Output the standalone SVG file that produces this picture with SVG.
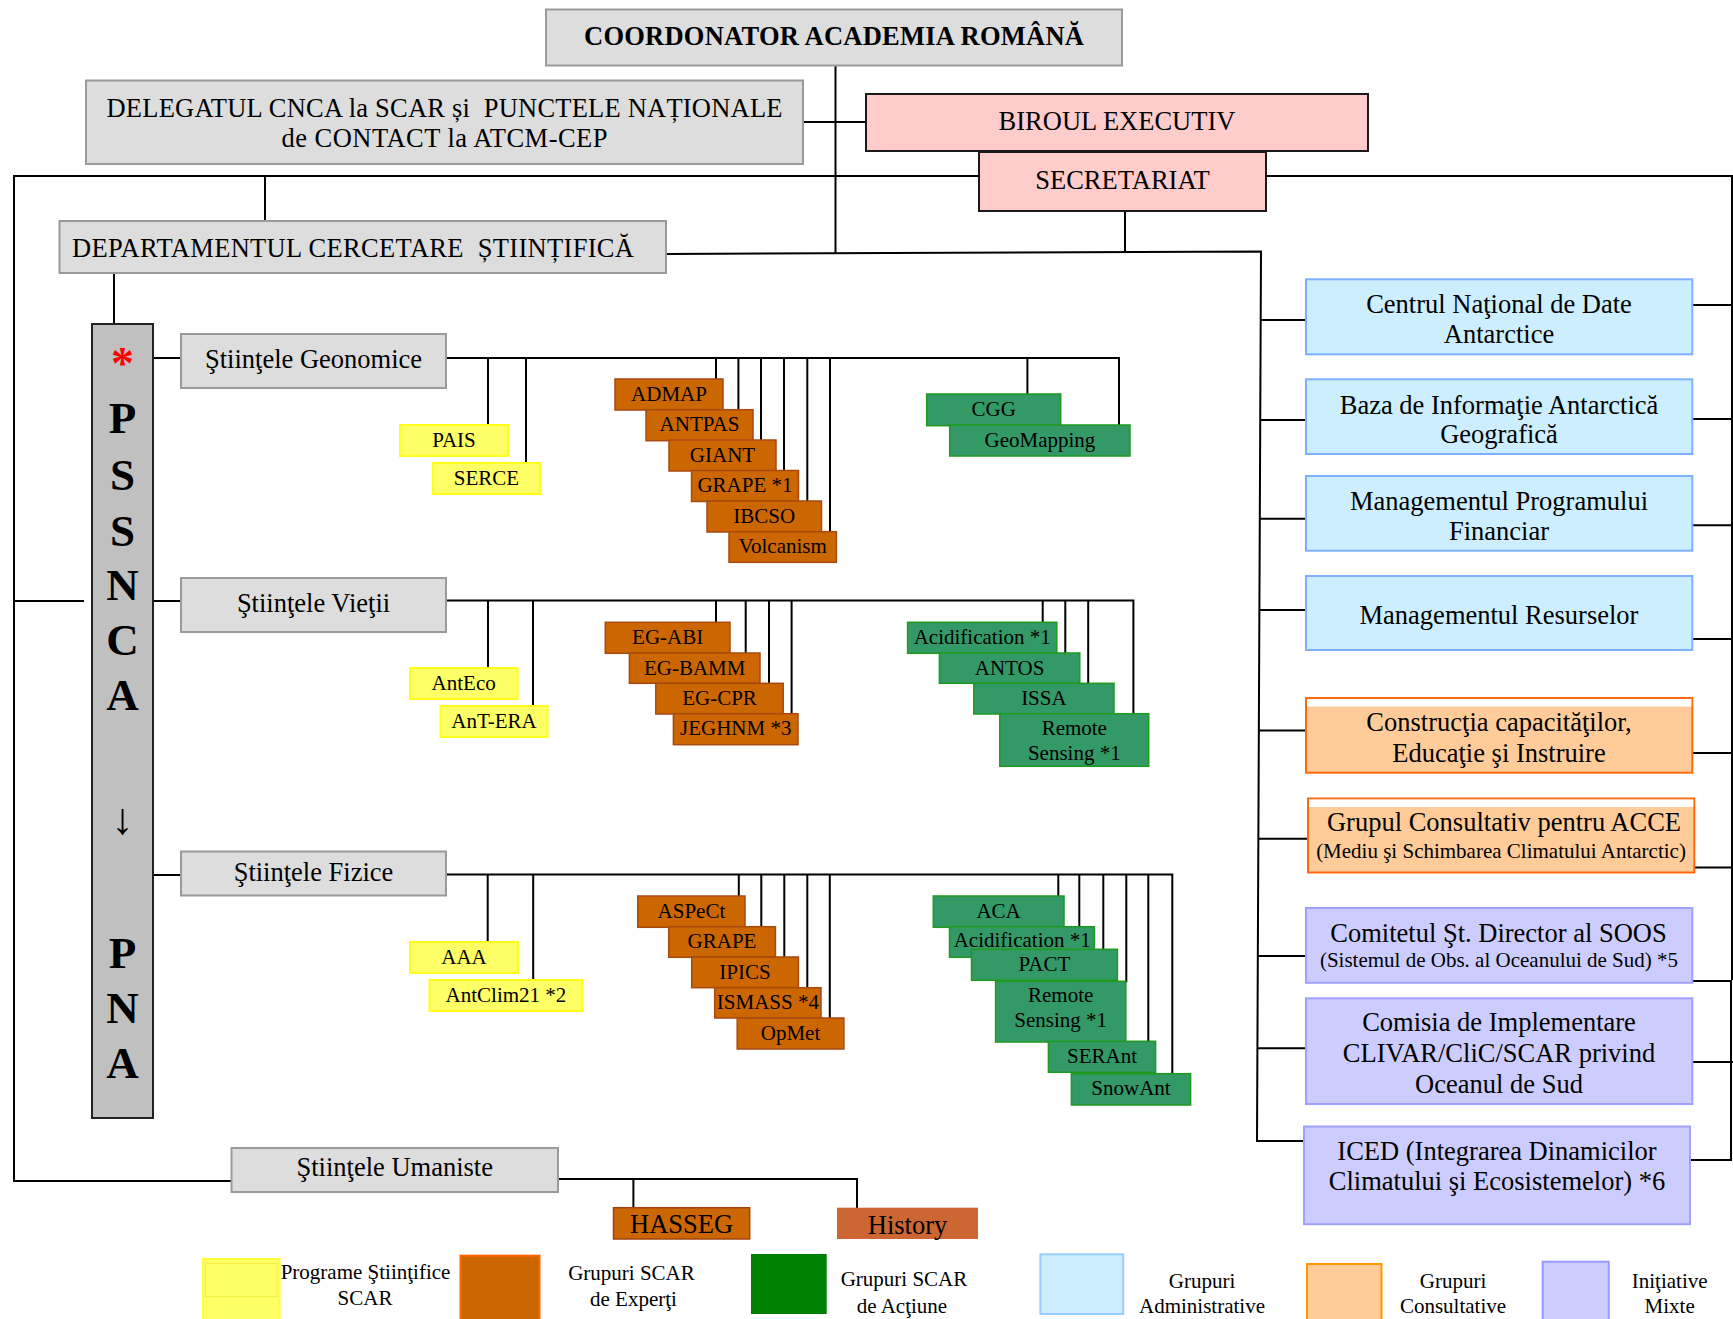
<svg xmlns="http://www.w3.org/2000/svg" width="1733" height="1319" viewBox="0 0 1733 1319">
<style>
.ln{stroke:#000;stroke-width:2;fill:none;stroke-linejoin:miter}
.gray{fill:#dddddd;stroke:#9a9a9a;stroke-width:2}
.pink{fill:#ffcccc;stroke:#1a1a1a;stroke-width:2}
.col{fill:#c0c0c0;stroke:#222;stroke-width:2}
.yel{fill:#ffff66;stroke:#ffff1a;stroke-width:2}
.org{fill:#cc6600;stroke:#a84a10;stroke-width:1.5}
.grn{fill:#339966;stroke:#1e9a1e;stroke-width:1.5}
.blu{fill:#cceeff;stroke:#7fb0ff;stroke-width:2}
.pch{fill:#ffcc99;stroke:#ff6a10;stroke-width:2}
.lav{fill:#ccccff;stroke:#a0a0ff;stroke-width:2}
text{font-family:"Liberation Serif","Times New Roman",serif;fill:#000;text-anchor:middle}
.t26{font-size:26.5px}
.t21{font-size:21px}
.big{font-size:45px;font-weight:bold}
.b{font-weight:bold}
</style>
<rect width="1733" height="1319" fill="#ffffff"/>
<g id="connectors" class="ln">
<path d="M979,176 H14 V1181 H231.5"/>
<path d="M14,601 H84"/>
<path d="M835.5,66 V254"/>
<path d="M803,122 H866"/>
<path d="M265,176 V221"/>
<path d="M1266,176 H1732 V980"/>
<path d="M666,254 L1261,251.5 L1257,1141 H1304"/>
<path d="M1125,211 V252"/>
<path d="M1260.7,320 H1306 M1260.2,420 H1306 M1259.8,518.7 H1306 M1259.4,610 H1306 M1258.8,730.6 H1306 M1258.4,838.8 H1308 M1257.8,956 H1306 M1257.4,1048.3 H1306"/>
<path d="M1692,305 H1732 M1692,419 H1732 M1692,525.3 H1732 M1692,639 H1732 M1692,753 H1732 M1694,867.4 H1732"/>
<path d="M1692,981 H1731 V1160 H1690 M1692,1062 H1733"/>
<path d="M114,273 V324"/>
<path d="M153,358 H181 M153,601 H181 M153,875 H181"/>
<path d="M446,358 H1119 V427"/>
<path d="M488,358 V426 M526,358 V464 M716,358 V381 M738.4,358 V411 M761,358 V441.5 M784,358 V472 M807.3,358 V502.5 M830,358 V533 M1027.4,358 V395.5"/>
<path d="M446,600.5 H1133.4 V714"/>
<path d="M488,600.5 V668.5 M533,600.5 V706.5 M716,600.5 V623.5 M745.7,600.5 V654.5 M769,600.5 V684.5 M791.6,600.5 V715 M1042.7,600.5 V623.5 M1065.3,600.5 V654.5 M1088.2,600.5 V684.5"/>
<path d="M446,874.5 H1172.3 V1074"/>
<path d="M487.7,874.5 V942.5 M533.2,874.5 V980.5 M738.8,874.5 V897.5 M761.3,874.5 V928 M784.3,874.5 V958.5 M807.3,874.5 V989 M829.8,874.5 V1019.5 M1058.3,874.5 V897.5 M1079.3,874.5 V928 M1103.3,874.5 V950.5 M1126.3,874.5 V982.5 M1148.3,874.5 V1042.5"/>
<path d="M558,1179 H857 V1208 M633.4,1179 V1208"/>
</g>

<g id="coordonator"><rect class="gray" x="546" y="9.5" width="576" height="56"/><text class="t26 b" x="834" y="44.5" textLength="500" lengthAdjust="spacing">COORDONATOR ACADEMIA ROMÂNĂ</text></g>
<g id="delegatul"><rect class="gray" x="86" y="80.5" width="717" height="83.5"/><text class="t26" x="444.5" y="116.7" xml:space="preserve" textLength="676" lengthAdjust="spacing">DELEGATUL CNCA la SCAR și  PUNCTELE NAȚIONALE</text><text class="t26" x="444.5" y="146.7" textLength="326" lengthAdjust="spacing">de CONTACT la ATCM-CEP</text></g>
<g id="biroul"><rect class="pink" x="866" y="94" width="502" height="57"/><text class="t26" x="1117" y="130">BIROUL EXECUTIV</text></g>
<g id="secretariat"><rect class="pink" x="979" y="152" width="287" height="59"/><text class="t26" x="1122.5" y="188.5">SECRETARIAT</text></g>
<g id="departament"><rect class="gray" x="59.5" y="221" width="606.5" height="52"/><text class="t26" x="72" y="256.7" style="text-anchor:start" xml:space="preserve" textLength="562" lengthAdjust="spacing">DEPARTAMENTUL CERCETARE  ȘTIINȚIFICĂ</text></g>

<g id="pssnca"><rect class="col" x="92" y="324" width="61" height="794"/>
<text x="122.4" y="379.4" style="font-size:46px;font-weight:bold;fill:#ff0000">*</text>
<text class="big" x="122.4" y="433.3">P</text>
<text class="big" x="122.4" y="490">S</text>
<text class="big" x="122.4" y="546">S</text>
<text class="big" x="122.4" y="600">N</text>
<text class="big" x="122.4" y="655">C</text>
<text class="big" x="122.4" y="710">A</text>
<text x="122.4" y="834" style="font-size:44px">↓</text>
<text class="big" x="122.4" y="968">P</text>
<text class="big" x="122.4" y="1023">N</text>
<text class="big" x="122.4" y="1078">A</text>
</g>

<g id="geonomice"><rect class="gray" x="181" y="334" width="265" height="54"/><text class="t26" x="313.5" y="368.3">Ştiinţele Geonomice</text></g>
<g id="vietii"><rect class="gray" x="181" y="578" width="265" height="54"/><text class="t26" x="313.5" y="611.7">Ştiinţele Vieţii</text></g>
<g id="fizice"><rect class="gray" x="181" y="851.5" width="265" height="44"/><text class="t26" x="313.5" y="881">Ştiinţele Fizice</text></g>
<g id="umaniste"><rect class="gray" x="231.5" y="1148" width="326.5" height="44"/><text class="t26" x="394.7" y="1176">Ştiinţele Umaniste</text></g>

<g id="pais"><rect class="yel" x="400" y="425" width="108" height="31"/><text class="t21" x="454" y="446.7">PAIS</text></g>
<g id="serce"><rect class="yel" x="433" y="463" width="107" height="31"/><text class="t21" x="486.5" y="484.5">SERCE</text></g>
<g id="anteco"><rect class="yel" x="410" y="668" width="107.5" height="31"/><text class="t21" x="463.7" y="689.7">AntEco</text></g>
<g id="antera"><rect class="yel" x="440.5" y="706" width="107" height="31"/><text class="t21" x="494" y="727.7">AnT-ERA</text></g>
<g id="aaa"><rect class="yel" x="410" y="942" width="108" height="31"/><text class="t21" x="464" y="963.5">AAA</text></g>
<g id="antclim"><rect class="yel" x="429.5" y="980" width="153" height="31"/><text class="t21" x="506" y="1001.5">AntClim21 *2</text></g>

<g id="admap"><rect class="org" x="615" y="379" width="108" height="31"/><text class="t21" x="669" y="400.7">ADMAP</text></g>
<g id="antpas"><rect class="org" x="646" y="409.7" width="107" height="31"/><text class="t21" x="699.5" y="431.4">ANTPAS</text></g>
<g id="giant"><rect class="org" x="669" y="440" width="107" height="31"/><text class="t21" x="722.5" y="461.7">GIANT</text></g>
<g id="grape1"><rect class="org" x="691.5" y="470.5" width="107" height="31"/><text class="t21" x="745" y="492.2">GRAPE *1</text></g>
<g id="ibcso"><rect class="org" x="707" y="501" width="114.5" height="31"/><text class="t21" x="764.2" y="522.7">IBCSO</text></g>
<g id="volcanism"><rect class="org" x="729" y="531.7" width="107.4" height="30.6"/><text class="t21" x="782.7" y="553.4">Volcanism</text></g>

<g id="cgg"><rect class="grn" x="926.7" y="394" width="134" height="31.7"/><text class="t21" x="993.7" y="416">CGG</text></g>
<g id="geomapping"><rect class="grn" x="949.7" y="425" width="180.3" height="31"/><text class="t21" x="1039.9" y="446.7">GeoMapping</text></g>

<g id="egabi"><rect class="org" x="605.3" y="622.3" width="124.7" height="31"/><text class="t21" x="667.7" y="644">EG-ABI</text></g>
<g id="egbamm"><rect class="org" x="629.4" y="653" width="130.6" height="30.3"/><text class="t21" x="694.7" y="674.7">EG-BAMM</text></g>
<g id="egcpr"><rect class="org" x="655.8" y="683.3" width="127.4" height="30.7"/><text class="t21" x="719.5" y="705">EG-CPR</text></g>
<g id="jeghnm"><rect class="org" x="673.4" y="713.7" width="124.6" height="31"/><text class="t21" x="735.7" y="735.4">JEGHNM *3</text></g>

<g id="acid1"><rect class="grn" x="907.6" y="622.3" width="149.2" height="31"/><text class="t21" x="982.2" y="644">Acidification *1</text></g>
<g id="antos"><rect class="grn" x="939.4" y="653" width="140.4" height="30.3"/><text class="t21" x="1009.6" y="674.7">ANTOS</text></g>
<g id="issa"><rect class="grn" x="973.8" y="683.3" width="140.2" height="30.7"/><text class="t21" x="1043.9" y="705">ISSA</text></g>
<g id="remote1"><rect class="grn" x="999.8" y="713.7" width="148.9" height="52.6"/><text class="t21" x="1074.3" y="735">Remote</text><text class="t21" x="1074.3" y="760">Sensing *1</text></g>

<g id="aspect"><rect class="org" x="637.8" y="896" width="107.2" height="31.3"/><text class="t21" x="691.4" y="917.5">ASPeCt</text></g>
<g id="grape"><rect class="org" x="668.7" y="926.7" width="106.7" height="30.6"/><text class="t21" x="722" y="948.3">GRAPE</text></g>
<g id="ipics"><rect class="org" x="691.7" y="957" width="106.7" height="30.7"/><text class="t21" x="745" y="978.7">IPICS</text></g>
<g id="ismass"><rect class="org" x="714.7" y="987.7" width="106.3" height="30.3"/><text class="t21" x="767.9" y="1009.3">ISMASS *4</text></g>
<g id="opmet"><rect class="org" x="737.2" y="1018" width="106.7" height="31"/><text class="t21" x="790.5" y="1039.7">OpMet</text></g>

<g id="aca"><rect class="grn" x="933.3" y="896" width="130.7" height="31.3"/><text class="t21" x="998.6" y="917.5">ACA</text></g>
<g id="acid2"><rect class="grn" x="949.5" y="926.7" width="144.9" height="30.6"/><text class="t21" x="1022.2" y="946.6">Acidification *1</text></g>
<g id="pact"><rect class="grn" x="971.5" y="949.3" width="145.9" height="31"/><text class="t21" x="1044.4" y="970.5">PACT</text></g>
<g id="remote2"><rect class="grn" x="995.6" y="981.3" width="130.2" height="60.7"/><text class="t21" x="1060.7" y="1002">Remote</text><text class="t21" x="1060.7" y="1026.7">Sensing *1</text></g>
<g id="serant"><rect class="grn" x="1048.4" y="1041.3" width="107.2" height="31"/><text class="t21" x="1102" y="1063">SERAnt</text></g>
<g id="snowant"><rect class="grn" x="1071.4" y="1073.7" width="119.2" height="31.3"/><text class="t21" x="1131" y="1095.3">SnowAnt</text></g>

<g id="hasseg"><rect x="613.5" y="1207.7" width="136.2" height="31.3" fill="#cc6600" stroke="#a04410" stroke-width="1.5"/><text class="t26" x="681.6" y="1233.3">HASSEG</text></g>
<g id="history"><rect x="837" y="1207.7" width="141" height="31.3" fill="#cc6633"/><text class="t26" x="907.5" y="1234">History</text></g>

<g id="centrul"><rect class="blu" x="1306" y="279.3" width="386.3" height="75"/><text class="t26" x="1499" y="313.3">Centrul Naţional de Date</text><text class="t26" x="1499" y="343.3">Antarctice</text></g>
<g id="baza"><rect class="blu" x="1306" y="379.3" width="386.3" height="74.7"/><text class="t26" x="1499" y="414">Baza de Informaţie Antarctică</text><text class="t26" x="1499" y="443.3">Geografică</text></g>
<g id="mgmtprog"><rect class="blu" x="1306" y="476" width="386.3" height="74.7"/><text class="t26" x="1499" y="510">Managementul Programului</text><text class="t26" x="1499" y="540">Financiar</text></g>
<g id="mgmtres"><rect class="blu" x="1306" y="576" width="386.3" height="74"/><text class="t26" x="1499" y="624.3">Managementul Resurselor</text></g>
<g id="constructia"><rect class="pch" x="1306" y="698" width="386.3" height="74.7"/><rect x="1307" y="699" width="384.3" height="7.5" fill="#ffffff"/><text class="t26" x="1499" y="731.3">Construcţia capacităţilor,</text><text class="t26" x="1499" y="762.3">Educaţie şi Instruire</text></g>
<g id="grupul"><rect class="pch" x="1308" y="798.5" width="386.3" height="74"/><rect x="1309" y="799.5" width="384.3" height="7.5" fill="#ffffff"/><text class="t26" x="1504" y="831.2">Grupul Consultativ pentru ACCE</text><text class="t21" x="1501" y="858.1">(Mediu şi Schimbarea Climatului Antarctic)</text></g>
<g id="comitetul"><rect class="lav" x="1306" y="908" width="386.3" height="74.8"/><text class="t26" x="1498.5" y="941.5">Comitetul Şt. Director al SOOS</text><text class="t21" x="1499" y="967.3">(Sistemul de Obs. al Oceanului de Sud) *5</text></g>
<g id="comisia"><rect class="lav" x="1306" y="998.3" width="386.3" height="105.7"/><text class="t26" x="1499" y="1031">Comisia de Implementare</text><text class="t26" x="1499" y="1062">CLIVAR/CliC/SCAR privind</text><text class="t26" x="1499" y="1093">Oceanul de Sud</text></g>
<g id="iced"><rect class="lav" x="1304" y="1126.5" width="386" height="97.7"/><text class="t26" x="1497" y="1159.5">ICED (Integrarea Dinamicilor</text><text class="t26" x="1497" y="1190">Climatului şi Ecosistemelor) *6</text></g>

<g id="legend">
<rect x="203" y="1259" width="76.5" height="64" fill="#ffff66" stroke="#ffff33" stroke-width="2"/>
<rect x="205.5" y="1263.3" width="71.5" height="33.4" fill="none" stroke="#eeee44" stroke-width="1"/>
<text class="t21" x="365.5" y="1279.3">Programe Ştiinţifice</text><text class="t21" x="365" y="1305">SCAR</text>
<rect x="460.5" y="1255.7" width="79" height="68" fill="#cc6600" stroke="#ff6600" stroke-width="2"/>
<text class="t21" x="631.5" y="1280">Grupuri SCAR</text><text class="t21" x="633.5" y="1305.7">de Experţi</text>
<rect x="751" y="1254" width="75.7" height="60" fill="#008000"/>
<text class="t21" x="904" y="1286">Grupuri SCAR</text><text class="t21" x="902" y="1312.7">de Acţiune</text>
<rect x="1040.4" y="1254.3" width="82.8" height="59.7" fill="#cceeff" stroke="#99ccff" stroke-width="2"/>
<text class="t21" x="1202" y="1287.7">Grupuri</text><text class="t21" x="1202" y="1313.3">Administrative</text>
<rect x="1307" y="1264" width="74.5" height="60" fill="#ffcc99" stroke="#ff9900" stroke-width="2"/>
<text class="t21" x="1453" y="1287.7">Grupuri</text><text class="t21" x="1453" y="1313.3">Consultative</text>
<rect x="1542.7" y="1261.7" width="66" height="62" fill="#ccccff" stroke="#9999ff" stroke-width="2"/>
<text class="t21" x="1669.7" y="1287.7">Iniţiative</text><text class="t21" x="1669.7" y="1313.3">Mixte</text>
</g>
</svg>
